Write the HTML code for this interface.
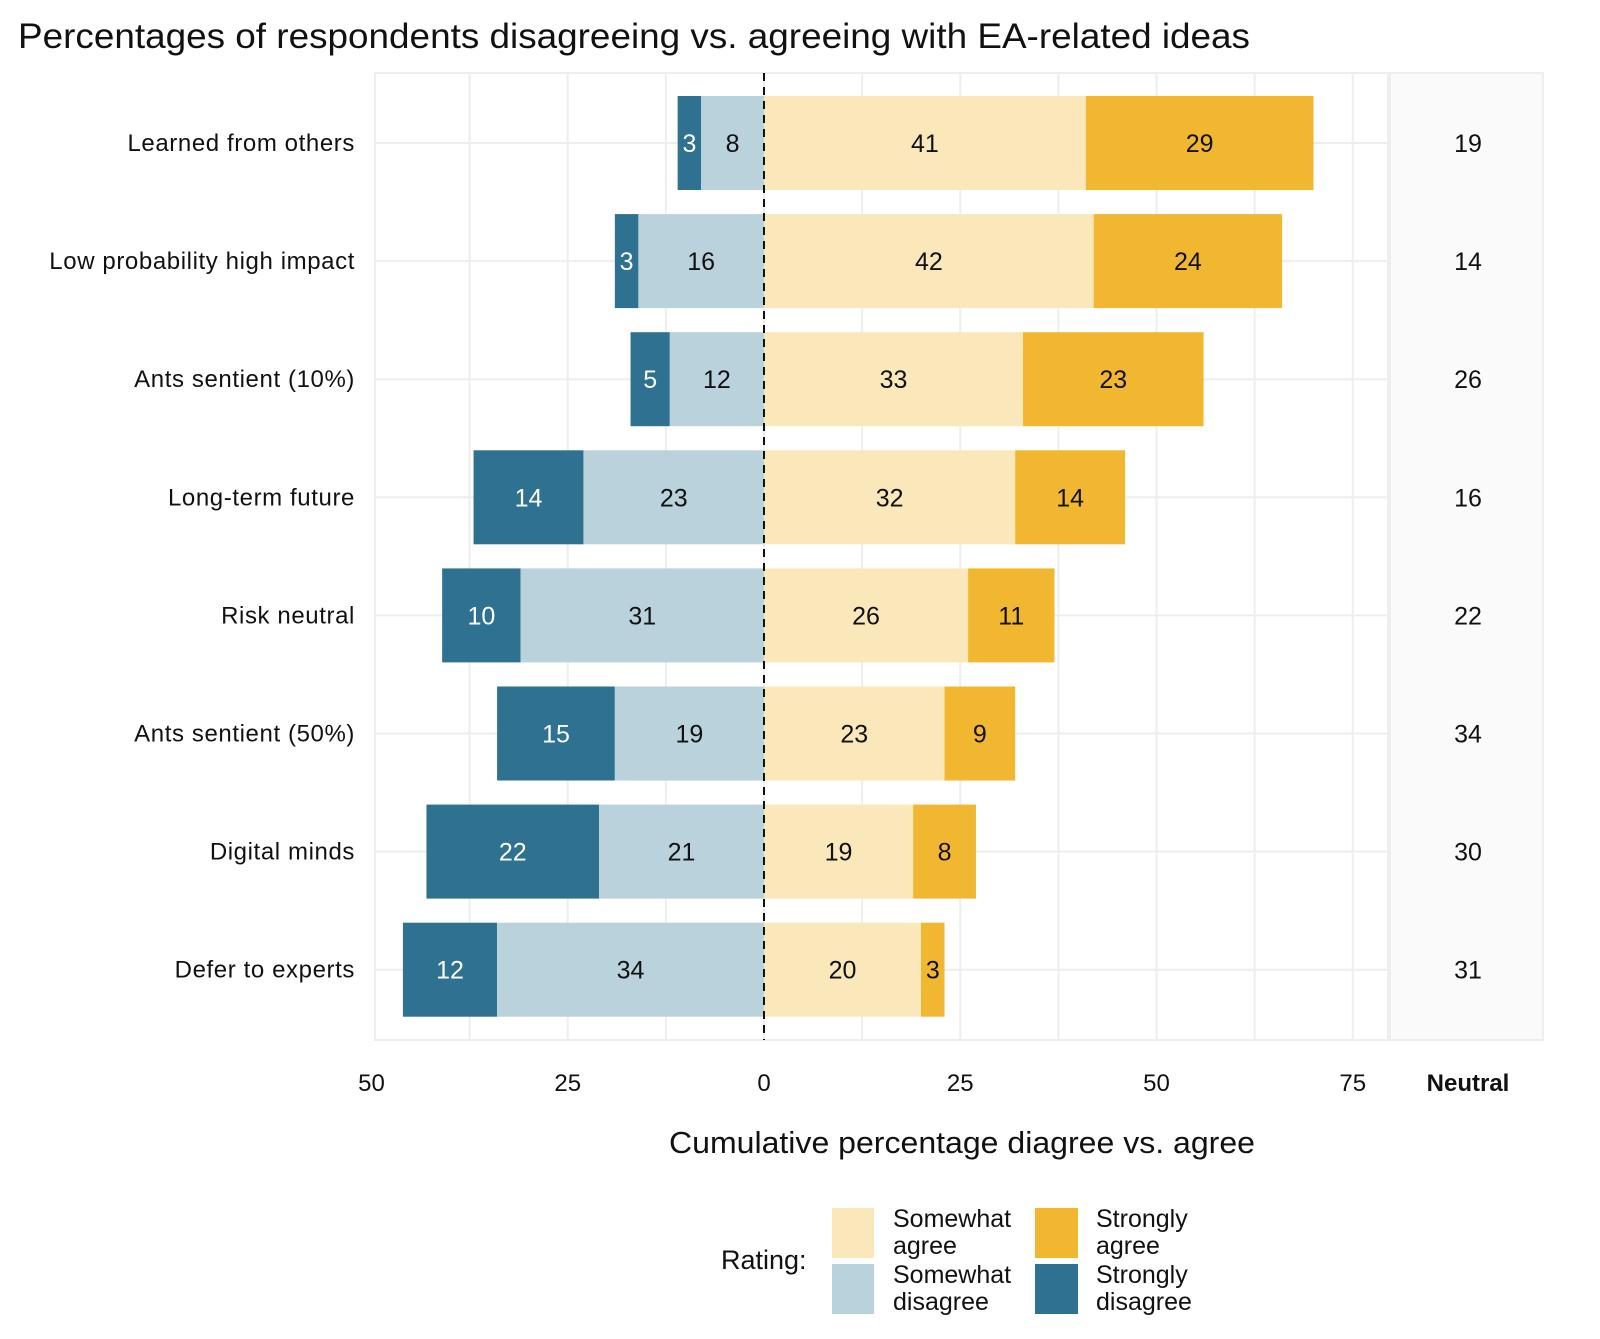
<!DOCTYPE html>
<html><head><meta charset="utf-8"><style>
body{margin:0;background:#fff;}
svg text{font-family:"Liberation Sans",sans-serif;}
</style></head><body>
<svg id="chart" width="1600" height="1334" xmlns="http://www.w3.org/2000/svg">
<text x="18" y="48" font-size="35" fill="#111" textLength="1232" lengthAdjust="spacingAndGlyphs">Percentages of respondents disagreeing vs. agreeing with EA-related ideas</text>
<rect x="375" y="73" width="1013" height="967" fill="#fff" stroke="#eee" stroke-width="2"/>
<rect x="1390" y="73" width="153" height="967" fill="#fafafa" stroke="#eee" stroke-width="2"/>
<g id="grid"></g><g id="bars"></g><g id="labels"></g>
<line x1="764" y1="73" x2="764" y2="1040" stroke="#111" stroke-width="2" stroke-dasharray="8,6"/>
<g id="axis"></g>
<text x="1468" y="1091" font-size="24" font-weight="bold" text-anchor="middle" fill="#111">Neutral</text>
<text x="962" y="1153" font-size="31" text-anchor="middle" fill="#111" textLength="586" lengthAdjust="spacingAndGlyphs">Cumulative percentage diagree vs. agree</text>
<g transform="translate(-9,-13)">
<text x="730" y="1282" font-size="27" fill="#111">Rating:</text>
<rect x="841" y="1221" width="42" height="50" fill="#fae7ba"/>
<text x="902" y="1240" font-size="25" fill="#111"><tspan x="902">Somewhat</tspan><tspan x="902" dy="27">agree</tspan></text>
<rect x="1044" y="1221" width="43" height="50" fill="#f2b731"/>
<text x="1105" y="1240" font-size="25" fill="#111"><tspan x="1105">Strongly</tspan><tspan x="1105" dy="27">agree</tspan></text>
<rect x="841" y="1277" width="42" height="50" fill="#bad2dc"/>
<text x="902" y="1296" font-size="25" fill="#111"><tspan x="902">Somewhat</tspan><tspan x="902" dy="27">disagree</tspan></text>
<rect x="1044" y="1277" width="43" height="50" fill="#2e7191"/>
<text x="1105" y="1296" font-size="25" fill="#111"><tspan x="1105">Strongly</tspan><tspan x="1105" dy="27">disagree</tspan></text>
</g>
</svg>
<script>
const categories = ["Learned from others","Low probability high impact","Ants sentient (10%)","Long-term future","Risk neutral","Ants sentient (50%)","Digital minds","Defer to experts"];
const stronglyDisagree = [3,3,5,14,10,15,22,12];
const somewhatDisagree = [8,16,12,23,31,19,21,34];
const somewhatAgree = [41,42,33,32,26,23,19,20];
const stronglyAgree = [29,24,23,14,11,9,8,3];
const neutral = [19,14,26,16,22,34,30,31];
const xTicks = [-50,-25,0,25,50,75];
const xTickLabels = ["50","25","0","25","50","75"];

const NS="http://www.w3.org/2000/svg";
const X0=764, U=7.85, Y0=143, STEP=118.1, BH=94;
const xs=v=>X0+v*U;
const ys=i=>Y0+i*STEP;
function mk(tag,attrs,parent){const e=document.createElementNS(NS,tag);for(const k in attrs)e.setAttribute(k,attrs[k]);parent.appendChild(e);return e;}
const grid=document.getElementById('grid'),bars=document.getElementById('bars'),labels=document.getElementById('labels'),axis=document.getElementById('axis');
for(let v=-37.5;v<80;v+=12.5){
  const l=mk('line',{x1:xs(v),x2:xs(v),y1:73,y2:1040,stroke:'#eee','stroke-width':2},grid);
  
  
}
categories.forEach((c,i)=>{
  const y=ys(i);
  const gl=mk('line',{x1:375,x2:1388,y1:y,y2:y,stroke:'#eee','stroke-width':2},grid);
  
  
  const t=mk('text',{x:355,y:y+8,'font-size':24,'letter-spacing':0.6,'text-anchor':'end',fill:'#111'},labels);
  t.textContent=c;
  
  
  const segs=[
    {a:-stronglyDisagree[i]-somewhatDisagree[i],b:-somewhatDisagree[i],v:stronglyDisagree[i],col:'#2e7191',tc:'#fff',n:'bar-strongly-disagree'},
    {a:-somewhatDisagree[i],b:0,v:somewhatDisagree[i],col:'#bad2dc',tc:'#111',n:'bar-somewhat-disagree'},
    {a:0,b:somewhatAgree[i],v:somewhatAgree[i],col:'#fae7ba',tc:'#111',n:'bar-somewhat-agree'},
    {a:somewhatAgree[i],b:somewhatAgree[i]+stronglyAgree[i],v:stronglyAgree[i],col:'#f2b731',tc:'#111',n:'bar-strongly-agree'}];
  segs.forEach(s=>{
    const r=mk('rect',{x:xs(s.a),y:y-BH/2,width:xs(s.b)-xs(s.a),height:BH,fill:s.col},bars);
    
    
    const tt=mk('text',{x:(xs(s.a)+xs(s.b))/2,y:y+9,'font-size':25,'text-anchor':'middle',fill:s.tc},labels);
    tt.textContent=s.v;
    
    
  });
  const nt=mk('text',{x:1468,y:y+9,'font-size':25,'text-anchor':'middle',fill:'#111'},labels);
  nt.textContent=neutral[i];
  
  
});
xTicks.forEach((v,i)=>{
  const t=mk('text',{x:xs(v),y:1091,'font-size':24,'text-anchor':'middle',fill:'#111'},axis);
  t.textContent=xTickLabels[i];
  
  
});
</script>
</body></html>
